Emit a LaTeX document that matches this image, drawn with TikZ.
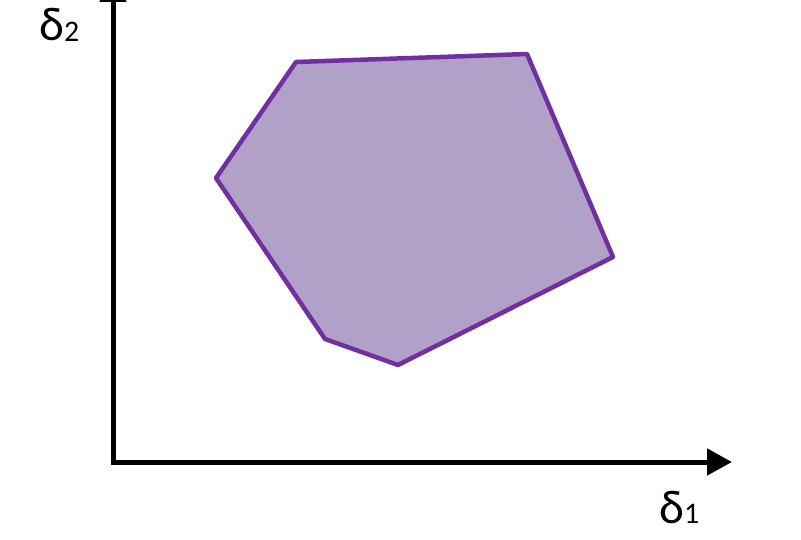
\documentclass[tikz,border=0pt]{standalone}
\usepackage{fontspec}
\setmainfont{Carlito}
\usepackage{xcolor}
\usetikzlibrary{arrows.meta,positioning}
\definecolor{regionfill}{HTML}{B1A1C9}
\definecolor{regionline}{HTML}{7030A0}

\begin{document}
\begin{tikzpicture}[x=0.02cm,y=-0.02cm]
      \useasboundingbox (0,0) rectangle (801,540);
      \tikzset{axis/.style={line width=0.1cm,-{Triangle[length=0.5cm,width=0.52cm]}},
        region/.style={fill=regionfill,draw=regionline,line width=0.09cm,line join=round},
        lbl/.style={font=\fontsize{27}{28}\selectfont,inner sep=0pt,anchor=base west}}
      % axes
      \coordinate (O) at (113,462);
      \coordinate (xend) at (732,462);
      \coordinate (yend) at (113,-23);
      \draw[axis] ([xshift=-0.05cm]O) -- (xend);
      \draw[axis] ([yshift=-0.05cm]O) -- (yend);
      \node[lbl] (d2) at (39,41) {δ\raisebox{-0.5pt}{\fontsize{17}{18}\selectfont 2}};
      \node[lbl] (d1) at (659,523) {δ\raisebox{-0.5pt}{\fontsize{17}{18}\selectfont 1}};
      % feasible region
      \coordinate (p1) at (296,62);
      \coordinate (p2) at (527,54);
      \coordinate (p3) at (613,257);
      \coordinate (p4) at (398,365);
      \coordinate (p5) at (325,339);
      \coordinate (p6) at (216,178);
      \draw[region] (p1) -- (p2) -- (p3) -- (p4) -- (p5) -- (p6) -- cycle;
    \end{tikzpicture}
\end{document}
